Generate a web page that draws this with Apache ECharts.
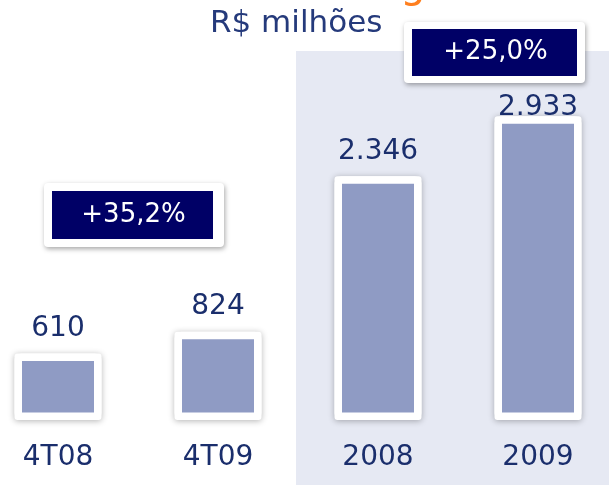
<!DOCTYPE html>
<html>
<head>
<meta charset="utf-8">
<script src="https://cdn.jsdelivr.net/npm/echarts@6/dist/echarts.min.js"></script>
<style>
  html, body { margin: 0; padding: 0; background: #fff; }
  #chart { width: 609px; height: 485px; }
</style>
</head>
<body>
<div id="chart"></div>
<script>
/************************        Receita - R$ milhões        **************************/
var categories = ['4T08', '4T09', '2008', '2009'];
var values = [610, 824, 2346, 2933];
var growthLabels = ['+35,2%', '+25,0%'];
var unitLabel = 'R$ milhões';

var navy = '#1a2e6c';
var font = 'DejaVu Sans';

function fmt(v) {
    return String(v).replace(/\B(?=(\d{3})+(?!\d))/g, '.');
}

var barData = values.map(function (v, i) {
    var item = { value: v };
    // last label is squeezed under the badge in the original
    if (i === 3) item.label = { distance: -5 };
    return item;
});

function badge(x, y, w, h, inner, text) {
    return {
        type: 'group',
        x: x, y: y, z: 100,
        children: [
            {
                type: 'rect',
                shape: { x: 0, y: 0, width: w, height: h, r: 4 },
                style: { fill: '#fff', shadowBlur: 5, shadowOffsetX: 1, shadowOffsetY: 2, shadowColor: 'rgba(0,0,0,0.35)' }
            },
            {
                type: 'rect',
                shape: { x: inner[0], y: inner[1], width: inner[2], height: inner[3] },
                style: { fill: '#000066' }
            },
            {
                type: 'text',
                x: inner[0] + inner[2] / 2 + 1, y: inner[1] + inner[3] / 2,
                style: {
                    text: text, fill: '#fff', font: '26px "DejaVu Sans"',
                    textAlign: 'center', textVerticalAlign: 'middle',
                    align: 'center', verticalAlign: 'middle'
                }
            }
        ]
    };
}

var dom = document.getElementById('chart');
var myChart = echarts.init(dom);
var option = {
    animation: false,
    backgroundColor: '#fff',
    grid: { left: -22, right: -9, top: 89, bottom: 65, outerBoundsMode: 'none', containLabel: false },
    xAxis: {
        type: 'category',
        data: categories,
        axisLine: { show: false },
        axisTick: { show: false },
        axisLabel: { margin: 24, fontSize: 28, color: navy, fontFamily: font }
    },
    yAxis: {
        type: 'value',
        min: -40,
        max: 3200,
        startValue: -40,
        show: false,
        splitLine: { show: false }
    },
    graphic: [
        {
            type: 'rect', z: -10,
            shape: { x: 296, y: 51, width: 313, height: 434 },
            style: { fill: '#e6e9f3' }
        },
        {
            type: 'text', x: 413, y: -13, z: 5,
            style: {
                text: 'g', fill: '#ff7f1e', font: '40px "DejaVu Sans"',
                textAlign: 'center', textVerticalAlign: 'middle',
                align: 'center', verticalAlign: 'middle'
            }
        },
        {
            type: 'text', x: 210, y: 24, z: 5,
            style: {
                text: unitLabel, fill: '#253a7b', font: '31px "DejaVu Sans"',
                textVerticalAlign: 'middle', verticalAlign: 'middle'
            }
        },
        badge(44, 183, 180, 64, [8, 8, 161, 48], growthLabels[0]),
        badge(404, 22, 181, 61, [8, 7, 165, 47], growthLabels[1])
    ],
    series: [
        {
            // white frame with soft shadow behind each bar
            type: 'bar',
            barWidth: 87,
            barGap: '-100%',
            silent: true,
            data: values,
            itemStyle: {
                color: '#fff',
                borderRadius: 3,
                shadowBlur: 6,
                shadowOffsetY: 1,
                shadowColor: 'rgba(0,0,0,0.3)'
            }
        },
        {
            type: 'bar',
            barWidth: 87,
            barGap: '-100%',
            data: barData,
            itemStyle: {
                color: '#8f9bc4',
                borderColor: '#fff',
                borderWidth: 7.5,
                borderRadius: 3
            },
            label: {
                show: true,
                position: 'top',
                distance: 11,
                fontSize: 28,
                color: navy,
                fontFamily: font,
                formatter: function (p) { return fmt(p.value); }
            }
        }
    ]
};

myChart.setOption(option);
</script>
</body>
</html>
